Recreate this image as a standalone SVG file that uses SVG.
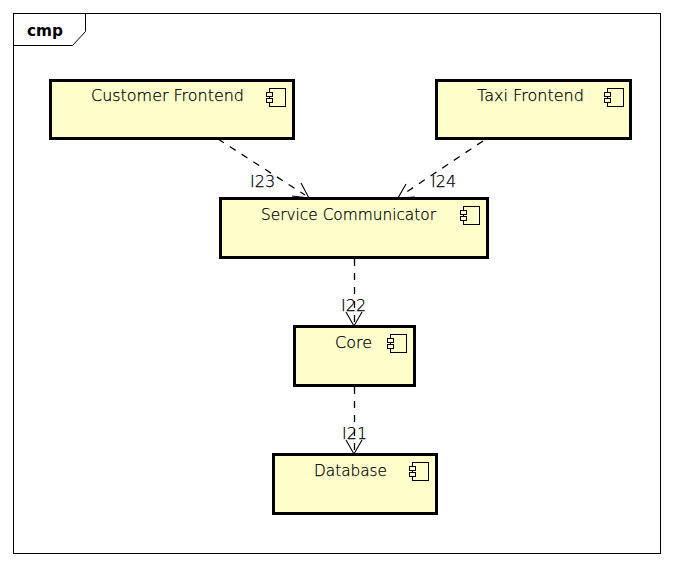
<svg xmlns="http://www.w3.org/2000/svg" width="673" height="566" viewBox="0 0 673 566">
<style>
.n{fill:#ffffcc;stroke:#000;stroke-width:3}
.i{fill:#ffffcc;stroke:#000;stroke-width:1}
.t,.l{font-family:"DejaVu Sans",sans-serif;font-size:16px;font-weight:200;fill:#000;stroke:#000;stroke-width:.25}
.d{fill:none;stroke:#000;stroke-width:1.3;stroke-dasharray:7 7}
.a{fill:none;stroke:#000;stroke-width:1.1}
</style>
<defs>
<g id="ic"><rect class="i" x="3.5" y="0.5" width="16" height="18"/><rect class="i" x="0.5" y="4.5" width="6" height="4"/><rect class="i" x="0.5" y="10.5" width="6" height="4"/></g>
</defs>
<rect width="673" height="566" fill="#fff"/>
<g id="frame">
<rect x="13.5" y="13.5" width="647" height="540" fill="#fff" stroke="#000" stroke-width="1"/>
<path d="M13.5 45.5H72.5L85.5 31.5V13.5" fill="#fff" stroke="#000" stroke-width="1"/>
<text x="27" y="36" textLength="36" lengthAdjust="spacingAndGlyphs" style="font-family:'DejaVu Sans',sans-serif;font-size:15px;font-weight:700">cmp</text>
</g>
<g id="connectors">
<path class="d" d="M218 139L305 195"/><path class="a" d="M301 183L309 198L292 196"/>
<path class="d" d="M483 141L402 195"/><path class="a" d="M406 184L398 198L415 197"/>
<path class="d" d="M354.5 259V324"/><path class="a" d="M346 312L354 326L362 312"/>
<path class="d" d="M354.5 387V452"/><path class="a" d="M346 440L354 454L362 440"/>
<text class="l" x="250" y="187">I23</text>
<text class="l" x="431" y="187">I24</text>
<text class="l" x="341" y="311">I22</text>
<text class="l" x="342" y="439">I21</text>
</g>
<g id="customer-frontend"><rect class="n" x="50.5" y="80.5" width="243" height="58"/><text class="t" x="91" y="101" textLength="153" lengthAdjust="spacingAndGlyphs">Customer Frontend</text><use href="#ic" x="266" y="88"/></g>
<g id="taxi-frontend"><rect class="n" x="436.5" y="80.5" width="194" height="58"/><text class="t" x="477" y="101" textLength="107" lengthAdjust="spacingAndGlyphs">Taxi Frontend</text><use href="#ic" x="604" y="88"/></g>
<g id="service-communicator"><rect class="n" x="220.5" y="198.5" width="267" height="59"/><text class="t" x="261" y="220" textLength="175" lengthAdjust="spacingAndGlyphs">Service Communicator</text><use href="#ic" x="460" y="206"/></g>
<g id="core"><rect class="n" x="294.5" y="326.5" width="120" height="59"/><text class="t" x="335" y="348" textLength="37" lengthAdjust="spacingAndGlyphs">Core</text><use href="#ic" x="387" y="334"/></g>
<g id="database"><rect class="n" x="273.5" y="454.5" width="163" height="59"/><text class="t" x="314" y="476" textLength="73" lengthAdjust="spacingAndGlyphs">Database</text><use href="#ic" x="409" y="462"/></g>
</svg>
